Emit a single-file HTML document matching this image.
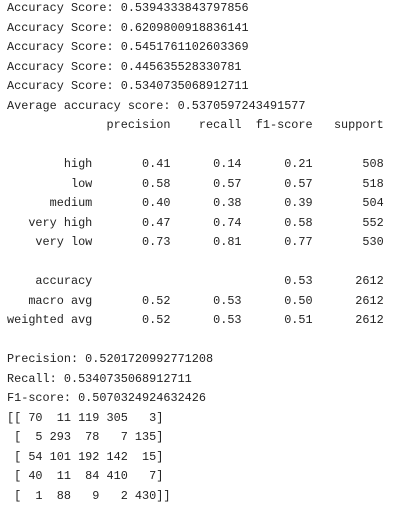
<!DOCTYPE html>
<html><head><meta charset="utf-8"><style>
html,body{margin:0;padding:0;background:#fff;width:404px;height:520px;overflow:hidden}
pre{margin:-1px 0 0 7px;font-family:"Liberation Mono",monospace;font-size:11.85px;line-height:19.5px;color:#222}
</style></head><body>
<pre>Accuracy Score: 0.5394333843797856
Accuracy Score: 0.6209800918836141
Accuracy Score: 0.5451761102603369
Accuracy Score: 0.445635528330781
Accuracy Score: 0.5340735068912711
Average accuracy score: 0.5370597243491577
              precision    recall  f1-score   support

        high       0.41      0.14      0.21       508
         low       0.58      0.57      0.57       518
      medium       0.40      0.38      0.39       504
   very high       0.47      0.74      0.58       552
    very low       0.73      0.81      0.77       530

    accuracy                           0.53      2612
   macro avg       0.52      0.53      0.50      2612
weighted avg       0.52      0.53      0.51      2612

Precision: 0.5201720992771208
Recall: 0.5340735068912711
F1-score: 0.5070324924632426
[[ 70  11 119 305   3]
 [  5 293  78   7 135]
 [ 54 101 192 142  15]
 [ 40  11  84 410   7]
 [  1  88   9   2 430]]</pre>
</body></html>
